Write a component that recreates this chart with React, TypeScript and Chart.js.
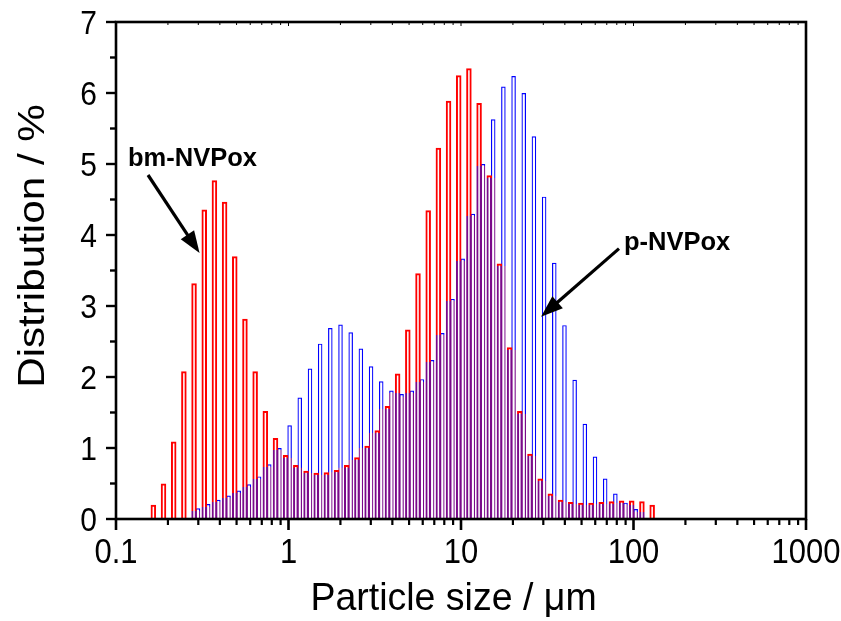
import { useEffect, useRef } from 'react';
import { Chart, registerables } from 'chart.js';

Chart.register(...registerables);

// Particle-size bins (µm), shared by both distributions
const binSizes = [
  0.1690, 0.1936, 0.2218, 0.2541, 0.2910, 0.3334, 0.3819, 0.4375, 0.5012, 0.5741,
  0.6577, 0.7534, 0.8630, 0.9886, 1.132, 1.298, 1.486, 1.702, 1.950, 2.234,
  2.559, 2.932, 3.358, 3.847, 4.407, 5.049, 5.783, 6.625, 7.590, 8.695,
  9.959, 11.41, 13.07, 14.97, 17.15, 19.65, 22.51, 25.78, 29.54, 33.83,
  38.76, 44.40, 50.86, 58.26, 66.74, 76.46, 87.58, 100.3, 114.9, 131.7,
];

// bm-NVPox distribution (%)
const bmValues = [
  0.20, 0.50, 1.09, 2.08, 3.32, 4.36, 4.77, 4.47, 3.70, 2.82,
  2.08, 1.52, 1.14, 0.90, 0.76, 0.68, 0.65, 0.66, 0.69, 0.76,
  0.87, 1.03, 1.25, 1.59, 2.05, 2.67, 3.46, 4.35, 5.23, 5.89,
  6.25, 6.35, 5.86, 4.84, 3.60, 2.42, 1.52, 0.92, 0.57, 0.36,
  0.27, 0.24, 0.23, 0.23, 0.24, 0.25, 0.26, 0.26, 0.25, 0.20,
];

// p-NVPox distribution (%)
const pValues: (number | null)[] = [
  null, null, null, null, 0.15, 0.21, 0.27, 0.33, 0.40, 0.49,
  0.60, 0.77, 1.00, 1.32, 1.71, 2.12, 2.47, 2.69, 2.74, 2.63,
  2.40, 2.15, 1.94, 1.81, 1.76, 1.81, 1.97, 2.24, 2.62, 3.10,
  3.67, 4.30, 5.00, 5.63, 6.09, 6.24, 6.00, 5.39, 4.54, 3.61,
  2.73, 1.96, 1.34, 0.88, 0.57, 0.36, 0.23, 0.14, null, null,
];

const xMajorTicks = [0.1, 1, 10, 100, 1000];
const xTickLabels = ['0.1', '1', '10', '100', '1000'];
const yTicks = [0, 1, 2, 3, 4, 5, 6, 7];
const yTickLabels = ['0', '1', '2', '3', '4', '5', '6', '7'];

const xTitle = 'Particle size / \u03bcm';
const yTitle = 'Distribution / %';

// annotations anchored in data coordinates
const bmLabel = { text: 'bm-NVPox', x: 0.1174, y: 4.97 };
const bmArrow = { x0: 0.1533, y0: 4.845, x1: 0.305, y1: 3.745 };
const pLabel = { text: 'p-NVPox', x: 88.1, y: 3.787 };
const pArrow = { x0: 82.4, y0: 3.808, x1: 29.1, y1: 2.849 };

const RED = '#ff0000';
const BLUE = '#0000ff';
const PURPLE = '#7a0a8a';

const FONT = '"Liberation Sans", Arial, sans-serif';

const val = (arr: (number | null)[], i: number) => {
  const v = arr[i];
  return v == null ? 0 : v;
};

// border colour: where a bar stands next to a bar of the other series,
// the adjacent outlines merge into purple up to the shared height
function mergedColor(ctx: any, own: (number | null)[], other: (number | null)[], leftIdx: number, rightIdx: number, base: string) {
  const chart = ctx.chart;
  const area = chart.chartArea;
  const ys = chart.scales && chart.scales.y;
  if (!area || !ys) return base;
  const i = ctx.dataIndex;
  const shared = Math.min(val(own, i), Math.max(val(other, i + leftIdx), val(other, i + rightIdx)));
  if (shared <= 0) return base;
  const y0 = ys.getPixelForValue(0);
  const y1 = ys.getPixelForValue(7);
  const cut = ys.getPixelForValue(shared) + 2.5;
  const f = Math.max(0, Math.min(1, (y0 - cut) / (y0 - y1)));
  const g = chart.ctx.createLinearGradient(0, y0, 0, y1);
  g.addColorStop(0, PURPLE);
  g.addColorStop(f, PURPLE);
  g.addColorStop(Math.min(1, f + 0.0001), base);
  g.addColorStop(1, base);
  return g;
}

function drawArrow(ctx: CanvasRenderingContext2D, x0: number, y0: number, x1: number, y1: number) {
  const ang = Math.atan2(y1 - y0, x1 - x0);
  const headLen = 22;
  const headHalf = 8;
  const bx = x1 - headLen * Math.cos(ang);
  const by = y1 - headLen * Math.sin(ang);
  ctx.save();
  ctx.strokeStyle = '#000';
  ctx.fillStyle = '#000';
  ctx.lineWidth = 3.2;
  ctx.beginPath();
  ctx.moveTo(x0, y0);
  ctx.lineTo(bx + 2 * Math.cos(ang), by + 2 * Math.sin(ang));
  ctx.stroke();
  ctx.beginPath();
  ctx.moveTo(x1, y1);
  ctx.lineTo(bx + headHalf * Math.sin(ang), by - headHalf * Math.cos(ang));
  ctx.lineTo(bx - headHalf * Math.sin(ang), by + headHalf * Math.cos(ang));
  ctx.closePath();
  ctx.fill();
  ctx.restore();
}

function stretchedText(
  ctx: CanvasRenderingContext2D, text: string, x: number, y: number,
  sx: number, sy: number, align: CanvasTextAlign, rotate = 0,
) {
  ctx.save();
  ctx.translate(x, y);
  if (rotate) ctx.rotate(rotate);
  ctx.scale(sx, sy);
  ctx.textAlign = align;
  ctx.textBaseline = 'alphabetic';
  ctx.fillText(text, 0, 0);
  ctx.restore();
}

const framePlugin = {
  id: 'framePlugin',
  afterDraw(chart: any) {
    const ctx: CanvasRenderingContext2D = chart.ctx;
    const { left, right, top, bottom } = chart.chartArea;
    const xs = chart.scales.x;
    const ys = chart.scales.y;
    ctx.save();
    ctx.strokeStyle = '#000';
    ctx.fillStyle = '#000';
    ctx.lineCap = 'butt';

    // frame
    ctx.lineWidth = 2.6;
    ctx.strokeRect(left, top, right - left, bottom - top);

    // x ticks (log): majors & minors
    for (let e = -1; e <= 3; e++) {
      for (let m = 1; m <= 9; m++) {
        const v = m * Math.pow(10, e);
        if (v > 1000.0001) break;
        const px = xs.getPixelForValue(v);
        const major = m === 1;
        ctx.lineWidth = major ? 2.6 : 2.2;
        ctx.beginPath();
        ctx.moveTo(px, bottom);
        ctx.lineTo(px, bottom + (major ? 11 : 6));
        ctx.stroke();
        ctx.lineWidth = 1;
        ctx.beginPath();
        ctx.moveTo(px, top);
        ctx.lineTo(px, top + (major ? 4 : 3));
        ctx.stroke();
      }
    }
    // y ticks
    for (let i = 0; i <= 14; i++) {
      const v = i * 0.5;
      const py = ys.getPixelForValue(v);
      const major = i % 2 === 0;
      ctx.lineWidth = 2.4;
      ctx.beginPath();
      ctx.moveTo(left, py);
      ctx.lineTo(left - (major ? 10 : 6), py);
      ctx.stroke();
    }

    // tick labels
    ctx.font = `31px ${FONT}`;
    xMajorTicks.forEach((v, i) => {
      stretchedText(ctx, xTickLabels[i], xs.getPixelForValue(v), bottom + 44, 1, 1.12, 'center');
    });
    ctx.font = `30px ${FONT}`;
    yTicks.forEach((v, i) => {
      stretchedText(ctx, yTickLabels[i], left - 19, ys.getPixelForValue(v) + 12, 1, 1.12, 'right');
    });

    // axis titles
    ctx.font = `37.5px ${FONT}`;
    stretchedText(ctx, xTitle, 453.5, 610, 1, 1.04, 'center');
    ctx.font = `37px ${FONT}`;
    stretchedText(ctx, yTitle, 44, 246, 1.14, 1, 'center', -Math.PI / 2);

    // annotations
    ctx.font = `bold 25.5px ${FONT}`;
    ctx.textAlign = 'left';
    ctx.textBaseline = 'alphabetic';
    ctx.fillText(bmLabel.text, xs.getPixelForValue(bmLabel.x), ys.getPixelForValue(bmLabel.y));
    ctx.fillText(pLabel.text, xs.getPixelForValue(pLabel.x), ys.getPixelForValue(pLabel.y));
    drawArrow(ctx, xs.getPixelForValue(bmArrow.x0), ys.getPixelForValue(bmArrow.y0),
      xs.getPixelForValue(bmArrow.x1), ys.getPixelForValue(bmArrow.y1));
    drawArrow(ctx, xs.getPixelForValue(pArrow.x0), ys.getPixelForValue(pArrow.y0),
      xs.getPixelForValue(pArrow.x1), ys.getPixelForValue(pArrow.y1));
    ctx.restore();
  },
};

export default function App() {
  const canvasRef = useRef<HTMLCanvasElement | null>(null);

  useEffect(() => {
    const canvas = canvasRef.current;
    if (!canvas) return;
    const chart = new Chart(canvas, {
      type: 'bar',
      data: {
        datasets: [
          {
            label: 'bm-NVPox',
            data: binSizes.map((x, i) => ({ x, y: bmValues[i] })),
            backgroundColor: 'rgba(255,255,255,0)',
            borderColor: (c: any) => mergedColor(c, bmValues, pValues, -1, 0, RED),
            borderWidth: 2,
            borderSkipped: 'start',
            barPercentage: 1.4,
            categoryPercentage: 1,
            inflateAmount: 0,
          },
          {
            label: 'p-NVPox',
            data: binSizes.map((x, i) => ({ x, y: pValues[i] })),
            backgroundColor: 'rgba(255,255,255,0)',
            borderColor: (c: any) => mergedColor(c, pValues, bmValues, 0, 1, BLUE),
            borderWidth: 1.2,
            borderSkipped: 'start',
            barPercentage: 1.15,
            categoryPercentage: 1,
            inflateAmount: 0,
          },
        ],
      },
      options: {
        animation: false,
        responsive: true,
        maintainAspectRatio: false,
        layout: { padding: { left: 0, right: 35, top: 22, bottom: 0 } },
        plugins: {
          legend: { display: false },
          tooltip: { enabled: false },
        },
        scales: {
          x: {
            type: 'logarithmic',
            min: 0.1,
            max: 1000,
            offset: false,
            grid: { display: false, drawTicks: false },
            border: { display: false },
            ticks: { display: false },
            afterFit: (scale: any) => {
              scale.height = 102;
              scale.paddingLeft = 0;
              scale.paddingRight = 0;
            },
          },
          y: {
            type: 'linear',
            min: 0,
            max: 7,
            grid: { display: false, drawTicks: false },
            border: { display: false },
            ticks: { display: false },
            afterFit: (scale: any) => {
              scale.width = 116;
              scale.paddingTop = 0;
              scale.paddingBottom = 0;
            },
          },
        },
      },
      plugins: [framePlugin],
    });
    return () => chart.destroy();
  }, []);

  return (
    <div style={{ position: 'fixed', left: 0, top: 0, width: 841, height: 621, background: '#fff' }}>
      <canvas ref={canvasRef} />
    </div>
  );
}
